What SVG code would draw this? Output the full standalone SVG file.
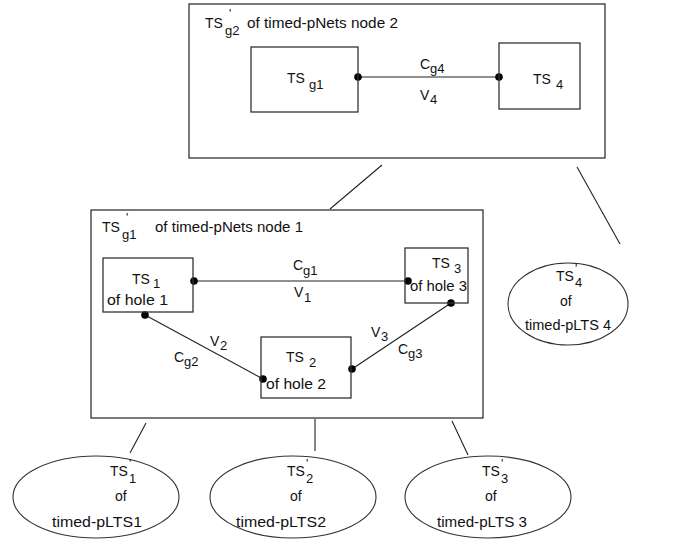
<svg xmlns="http://www.w3.org/2000/svg" width="681" height="540" viewBox="0 0 681 540">
<style>
  .box { fill: none; stroke: #333; stroke-width: 1.3; }
  .ell { fill: none; stroke: #333; stroke-width: 1.1; }
  .ln { stroke: #222; stroke-width: 1.1; fill: none; }
  .dot { fill: #000; }
  text { font-family: "Liberation Sans", Arial, sans-serif; font-size: 14px; fill: #111; }
  .sub { font-size: 13px; }
  .pr { font-size: 12px; }
</style>
<rect width="681" height="540" fill="#fff"/>

<g id="connectors">
  <line class="ln" x1="358" y1="77" x2="499" y2="77"/>
  <line class="ln" x1="193" y1="281" x2="408" y2="281"/>
  <line class="ln" x1="145" y1="315" x2="263" y2="379"/>
  <line class="ln" x1="352" y1="369" x2="451" y2="303"/>
  <line class="ln" x1="382" y1="165" x2="330" y2="209"/>
  <line class="ln" x1="577" y1="167" x2="620" y2="244"/>
  <line class="ln" x1="146" y1="423" x2="130" y2="453"/>
  <line class="ln" x1="315" y1="419" x2="315" y2="451"/>
  <line class="ln" x1="452" y1="421" x2="468" y2="455"/>
  <circle class="dot" cx="358" cy="77" r="3.8"/>
  <circle class="dot" cx="499" cy="77" r="3.8"/>
  <circle class="dot" cx="194" cy="281" r="3.8"/>
  <circle class="dot" cx="408" cy="281" r="3.8"/>
  <circle class="dot" cx="145" cy="315" r="3.8"/>
  <circle class="dot" cx="263" cy="379" r="3.8"/>
  <circle class="dot" cx="352" cy="369" r="3.8"/>
  <circle class="dot" cx="451" cy="303" r="3.8"/>
  <text x="420" y="69">C</text><text class="sub" x="430" y="73">g4</text>
  <text x="420" y="100">V</text><text class="sub" x="430" y="104">4</text>
  <text x="293" y="270">C</text><text class="sub" x="303" y="275">g1</text>
  <text x="294" y="297">V</text><text class="sub" x="304" y="302">1</text>
  <text x="210" y="346">V</text><text class="sub" x="220" y="350">2</text>
  <text x="174" y="362">C</text><text class="sub" x="184" y="366">g2</text>
  <text x="371" y="337">V</text><text class="sub" x="381" y="341">3</text>
  <text x="398" y="354">C</text><text class="sub" x="408" y="358">g3</text>
</g>

<g id="node2">
  <rect class="box" x="189" y="4" width="416" height="154"/>
  <text x="205" y="28">TS</text><text class="sub" x="225" y="35">g2</text><text class="pr" x="229" y="18">'</text>
  <text x="247" y="28" textLength="151" lengthAdjust="spacingAndGlyphs">of timed-pNets node 2</text>
</g>
<g id="tsg1">
  <rect class="box" x="251" y="47" width="107" height="65"/>
  <text x="287" y="83">TS</text><text class="sub" x="309" y="89">g1</text>
</g>
<g id="ts4">
  <rect class="box" x="499" y="43" width="81" height="66"/>
  <text x="533" y="84">TS</text><text class="sub" x="556" y="89">4</text>
</g>

<g id="node1">
  <rect class="box" x="91" y="210" width="392" height="208"/>
  <text x="102" y="232">TS</text><text class="sub" x="122" y="239">g1</text><text class="pr" x="126" y="222">'</text>
  <text x="155" y="232" textLength="148" lengthAdjust="spacingAndGlyphs">of timed-pNets node 1</text>
</g>
<g id="ts1">
  <rect class="box" x="103" y="258" width="90" height="54"/>
  <text x="132" y="284">TS</text><text class="sub" x="153" y="288">1</text>
  <text x="107" y="305" textLength="61" lengthAdjust="spacingAndGlyphs">of  hole 1</text>
</g>
<g id="ts3">
  <rect class="box" x="405" y="248" width="63" height="55"/>
  <text x="432" y="268">TS</text><text class="sub" x="454" y="273">3</text>
  <text x="410" y="291" textLength="57" lengthAdjust="spacingAndGlyphs">of hole 3</text>
</g>
<g id="ts2">
  <rect class="box" x="261" y="337" width="90" height="61"/>
  <text x="286" y="362">TS</text><text class="sub" x="309" y="367">2</text>
  <text x="266" y="389" textLength="60" lengthAdjust="spacingAndGlyphs">of hole 2</text>
</g>

<g id="ltsp4">
  <ellipse class="ell" cx="568" cy="304" rx="60" ry="41"/>
  <text x="556" y="281">TS</text><text class="sub" x="575" y="287">4</text><text class="pr" x="575" y="273">'</text>
  <text x="560" y="306">of</text>
  <text x="525" y="330" textLength="86" lengthAdjust="spacingAndGlyphs">timed-pLTS 4</text>
</g>
<g id="ltsp1">
  <ellipse class="ell" cx="96" cy="497" rx="83" ry="41"/>
  <text x="110" y="476">TS</text><text class="sub" x="129" y="483">1</text><text class="pr" x="129" y="468">'</text>
  <text x="115" y="501">of</text>
  <text x="52" y="527" textLength="90" lengthAdjust="spacingAndGlyphs">timed-pLTS1</text>
</g>
<g id="ltsp2">
  <ellipse class="ell" cx="293" cy="497" rx="83" ry="41"/>
  <text x="287" y="476">TS</text><text class="sub" x="306" y="483">2</text><text class="pr" x="306" y="468">'</text>
  <text x="290" y="501">of</text>
  <text x="236" y="527" textLength="90" lengthAdjust="spacingAndGlyphs">timed-pLTS2</text>
</g>
<g id="ltsp3">
  <ellipse class="ell" cx="488" cy="497" rx="83" ry="41"/>
  <text x="482" y="476">TS</text><text class="sub" x="501" y="483">3</text><text class="pr" x="501" y="468">'</text>
  <text x="485" y="501">of</text>
  <text x="437" y="527" textLength="90" lengthAdjust="spacingAndGlyphs">timed-pLTS 3</text>
</g>
</svg>
